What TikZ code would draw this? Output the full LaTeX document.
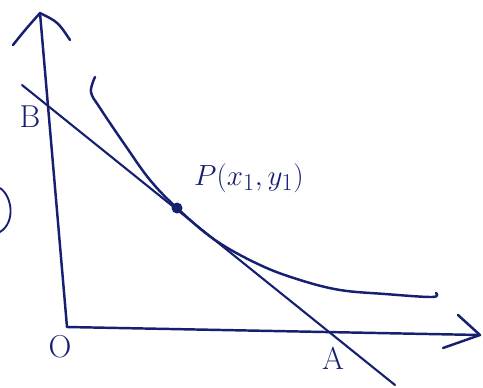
\documentclass[tikz,border=0pt]{standalone}
\usetikzlibrary{calc}
\definecolor{ink}{RGB}{22,32,112}
\begin{document}
\begin{tikzpicture}[x=0.03cm,y=-0.03cm,
  pen/.style={draw=ink,line width=2.1pt,line cap=round,line join=round},
  lbl/.style={text=ink,font=\fontsize{27}{31}\selectfont,inner sep=0pt}]
\useasboundingbox (0,0) rectangle (483,387);
% key points
\coordinate (O) at (67,327);
\coordinate (ytop) at (40,13);
\coordinate (xend) at (480,335);
\coordinate (l1) at (22,85);
\coordinate (l2) at (395,385);
\coordinate (P) at (177,208);
% axes
\draw[pen] (ytop) -- (O) -- (xend);
\draw[pen] (13,45) .. controls (25,30) .. (ytop) .. controls (58,22) .. (70,40);
\draw[pen] (458,315) -- (xend) -- (443,348);
% tangent line
\draw[pen,line width=1.8pt] (l1) -- (l2);
% curve
\draw[pen] plot[smooth,tension=0.6] coordinates {(95,77) (91,92) (100,108) (125,145) (150,180) (177,208) (215,240) (260,265) (300,280) (340,290) (385,294) (432,297) (436,293)};
% point
\fill[ink] (P) circle (5.5);
% labels
\node[lbl] (Bl) at (30,117) {B};
\node[lbl] (Ol) at (60,347) {O};
\node[lbl] (Al) at (333,358) {A};
\node[lbl,anchor=west,font=\fontsize{31}{35}\selectfont] (Pl) at (194,178) {$P(x_1,y_1)$};
% stray fragment at left edge
\draw[pen,line width=1.6pt] (0,188) .. controls (12,196) and (16,222) .. (0,232);
\end{tikzpicture}
\end{document}
